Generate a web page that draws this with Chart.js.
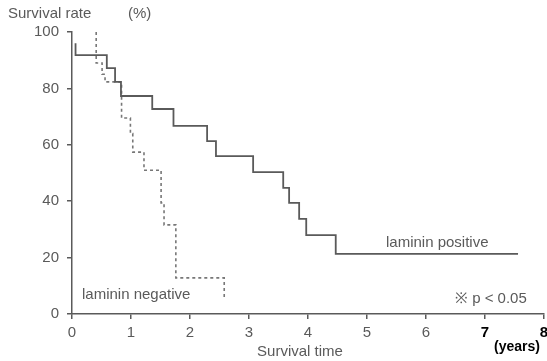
<!DOCTYPE html>
<html>
<head>
<meta charset="utf-8">
<script src="https://cdn.jsdelivr.net/npm/chart.js@4"></script>
<style>
  html, body { margin: 0; padding: 0; background: #fff; }
  #wrap { width: 547px; height: 361px; }
</style>
</head>
<body>
<div id="wrap"><canvas id="survChart" width="547" height="361"></canvas></div>
<script>
// Kaplan-Meier steps (years, survival %)
const positiveTimes = [0.06, 0.06, 0.59, 0.73, 0.83, 1.36, 1.72, 2.29, 2.44, 3.07, 3.58, 3.68, 3.85, 3.97, 4.47, 7.56];
const positiveRates = [96, 91.8, 87.2, 82.3, 77.3, 72.7, 66.7, 61.3, 56, 50.3, 44.7, 39.4, 33.7, 28, 21.3, 21.3];

const negativeTimes = [0.41, 0.41, 0.51, 0.56, 0.84, 0.99, 1.03, 1.22, 1.51, 1.56, 1.76, 2.58, 2.58];
const negativeRates = [100, 89, 85, 82.3, 69.5, 64, 57.4, 51, 39.4, 31.6, 12.8, 12.8, 6];

const xTicks = [0, 1, 2, 3, 4, 5, 6, 7, 8];
const yTicks = [0, 20, 40, 60, 80, 100];

const gray = '#5a5a5a';
const fontFamily = '"Liberation Sans", Arial, sans-serif';

function toPoints(xs, ys) {
    return xs.map((x, i) => ({ x: x, y: ys[i] }));
}

// extra labels drawn on top of the chart
const textPlugin = {
    id: 'extraText',
    afterDraw(chart) {
        const ctx = chart.ctx;
        ctx.save();
        ctx.font = '15px ' + fontFamily;
        ctx.fillStyle = gray;
        ctx.textBaseline = 'middle';
        ctx.textAlign = 'left';
        ctx.fillText('Survival rate', 8, 14);
        ctx.fillText('(%)', 128, 14);
        ctx.fillText('laminin positive', 386, 243);
        ctx.fillText('laminin negative', 82, 295);
        ctx.fillText('\u203B p < 0.05', 455, 299);
        ctx.textAlign = 'center';
        ctx.fillText('Survival time', 300, 352);
        ctx.fillStyle = '#000';
        ctx.font = 'bold 14px ' + fontFamily;
        ctx.fillText('(years)', 517, 347);
        ctx.restore();
    }
};

const ctx = document.getElementById('survChart').getContext('2d');
new Chart(ctx, {
    type: 'line',
    data: {
        datasets: [{
            label: 'laminin positive',
            data: toPoints(positiveTimes, positiveRates),
            borderColor: gray,
            borderWidth: 1.8,
            stepped: 'before',
            pointRadius: 0,
            fill: false
        }, {
            label: 'laminin negative',
            data: toPoints(negativeTimes, negativeRates),
            borderColor: '#777',
            borderWidth: 1.6,
            borderDash: [3, 3],
            stepped: 'before',
            pointRadius: 0,
            fill: false
        }]
    },
    options: {
        responsive: false,
        animation: false,
        layout: { padding: { top: 32, right: 3, left: 0, bottom: 0 } },
        plugins: {
            legend: { display: false },
            tooltip: { enabled: false }
        },
        scales: {
            x: {
                type: 'linear',
                min: 0,
                max: 8,
                afterFit: (scale) => {
                    scale.height = 47;
                    scale.paddingLeft = 0;
                    scale.paddingRight = 0;
                },
                afterBuildTicks: (scale) => { scale.ticks = xTicks.map(v => ({ value: v })); },
                border: { display: true, color: gray, width: 1.5 },
                grid: { display: true, drawOnChartArea: false, drawTicks: true, tickLength: 5, color: gray, lineWidth: 1.5 },
                ticks: {
                    padding: 5,
                    maxRotation: 0,
                    color: (c) => c.tick && c.tick.value >= 7 ? '#000' : gray,
                    font: (c) => ({ family: fontFamily, size: 15, weight: c.tick && c.tick.value >= 7 ? 'bold' : 'normal' })
                }
            },
            y: {
                min: 0,
                max: 100,
                afterFit: (scale) => { scale.width = 72; },
                afterBuildTicks: (scale) => { scale.ticks = yTicks.map(v => ({ value: v })); },
                border: { display: true, color: gray, width: 1.5 },
                grid: { display: true, drawOnChartArea: false, drawTicks: true, tickLength: 5, color: gray, lineWidth: 1.5 },
                ticks: {
                    padding: 8,
                    color: gray,
                    font: { family: fontFamily, size: 15 }
                }
            }
        }
    },
    plugins: [textPlugin]
});
</script>
</body>
</html>
